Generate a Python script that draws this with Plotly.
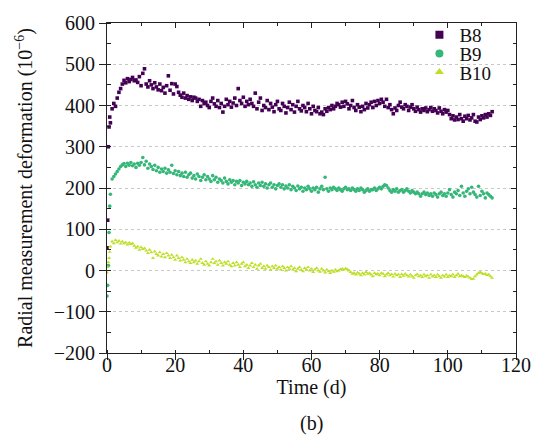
import plotly.graph_objects as go

days = [0, 0.2, 0.4, 0.6, 0.8, 1.0,
        1.5, 2, 2.5, 3, 3.5, 4, 4.5, 5, 5.5, 6, 6.5, 7, 7.5, 8, 8.5, 9, 9.5, 10, 10.5,
        11, 11.5, 12, 12.5, 13, 13.5, 14, 14.5, 15, 15.5, 16, 16.5, 17, 17.5, 18, 18.5, 19, 19.5, 20, 20.5,
        21, 21.5, 22, 22.5, 23, 23.5, 24, 24.5, 25, 25.5, 26, 26.5, 27, 27.5, 28, 28.5, 29, 29.5, 30, 30.5,
        31, 31.5, 32, 32.5, 33, 33.5, 34, 34.5, 35, 35.5, 36, 36.5, 37, 37.5, 38, 38.5, 39, 39.5, 40, 40.5,
        41, 41.5, 42, 42.5, 43, 43.5, 44, 44.5, 45, 45.5, 46, 46.5, 47, 47.5, 48, 48.5, 49, 49.5, 50, 50.5,
        51, 51.5, 52, 52.5, 53, 53.5, 54, 54.5, 55, 55.5, 56, 56.5, 57, 57.5, 58, 58.5, 59, 59.5, 60, 60.5,
        61, 61.5, 62, 62.5, 63, 63.5, 64, 64.5, 65, 65.5, 66, 66.5, 67, 67.5, 68, 68.5, 69, 69.5, 70, 70.5,
        71, 71.5, 72, 72.5, 73, 73.5, 74, 74.5, 75, 75.5, 76, 76.5, 77, 77.5, 78, 78.5, 79, 79.5, 80, 80.5,
        81, 81.5, 82, 82.5, 83, 83.5, 84, 84.5, 85, 85.5, 86, 86.5, 87, 87.5, 88, 88.5, 89, 89.5, 90, 90.5,
        91, 91.5, 92, 92.5, 93, 93.5, 94, 94.5, 95, 95.5, 96, 96.5, 97, 97.5, 98, 98.5, 99, 99.5, 100, 100.5,
        101, 101.5, 102, 102.5, 103, 103.5, 104, 104.5, 105, 105.5, 106, 106.5, 107, 107.5, 108, 108.5, 109, 109.5, 110, 110.5,
        111, 111.5, 112, 112.5, 113]

b8 = [55, 122, 300, 348, 372, 358,
      392, 405, 398, 418, 432, 441, 452, 461, 455, 465, 458, 463, 468, 460, 462, 456, 470, 448, 478,
      489, 452, 445, 460, 450, 441, 455, 445, 438, 452, 436, 444, 430, 448, 472, 437, 453, 428, 452, 446,
      432, 425, 420, 430, 418, 424, 415, 421, 412, 420, 418, 410, 415, 398, 412, 405, 408, 400, 395, 410,
      418, 404, 398, 412, 395, 405, 384, 398, 415, 402, 410, 396, 406, 418, 400, 441, 412, 405, 420, 398,
      410, 402, 415, 405, 398, 430, 392, 408, 418, 388, 400, 395, 412, 390, 405, 396, 385, 402, 410, 392,
      388, 405, 398, 382, 395, 408, 390, 402, 384, 398, 410, 392, 387, 400, 395, 385, 405, 392, 380, 398,
      388, 385, 395, 380, 384, 378, 392, 386, 395, 390, 400, 392, 398, 405, 402, 396, 408, 398, 410, 404,
      392, 400, 412, 395, 388, 402, 396, 385, 398, 390, 405, 394, 402, 408, 395, 410, 400, 412, 405, 415,
      408, 398, 415, 395, 402, 390, 380, 394, 388, 400, 408, 396, 392, 402, 398, 388, 396, 402, 392, 386,
      396, 390, 384, 392, 388, 394, 385, 390, 395, 386, 392, 388, 382, 394, 386, 380, 390, 384, 388, 378,
      368, 375, 365, 372, 366, 378, 368, 362, 374, 368, 376, 365, 370, 378, 362, 360, 372, 366, 375, 370,
      378, 372, 380, 376, 385]

b9 = [-62, -36, 12, 92, 156, 185,
      222, 228, 234, 240, 246, 252, 256, 259, 252, 260, 255, 262, 254, 258, 250, 260, 255, 262, 274,
      256, 265, 248, 258, 252, 245, 255, 242, 250, 238, 246, 240, 248, 236, 244, 238, 255, 235, 242, 232,
      240, 230, 236, 228, 238, 226, 232, 236, 224, 230, 222, 234, 228, 218, 226, 232, 220, 228, 222, 216,
      230, 220, 226, 214, 222, 218, 212, 224, 216, 210, 220, 214, 218, 208, 216, 212, 218, 206, 214, 210,
      216, 208, 212, 204, 215, 208, 202, 212, 206, 214, 204, 210, 200, 208, 212, 202, 208, 198, 206, 210,
      202, 208, 198, 205, 200, 208, 196, 204, 200, 194, 205, 198, 202, 192, 200, 196, 204, 198, 192, 200,
      196, 202, 190, 198, 204, 196, 226, 198, 192, 200, 196, 202, 198, 194, 200, 196, 192, 198, 202, 196,
      198, 194, 200, 196, 192, 198, 194, 200, 196, 190, 194, 198, 192, 196, 196, 200, 194, 198, 202, 198,
      204, 208, 206, 200, 194, 190, 196, 192, 198, 190, 194, 196, 190, 194, 198, 192, 188, 194, 190, 186,
      190, 186, 180, 186, 190, 184, 188, 182, 186, 180, 188, 184, 178, 186, 190, 182, 186, 180, 188, 196,
      184, 178, 190, 186, 194, 182, 204, 188, 180, 192, 198, 186, 202, 190, 184, 178, 204, 182, 192, 186,
      176, 188, 184, 180, 176]

b10 = [-5, 8, 20, 30, 45, 58,
       70, 66, 74, 68, 72, 65, 70, 66, 68, 63, 67, 64, 66, 60, 55, 58, 50, 56, 52,
       54, 48, 42, 50, 44, 30, 46, 40, 36, 44, 34, 40, 32, 42, 36, 30, 38, 32, 26, 36,
       30, 24, 32, 26, 20, 28, 22, 18, 26, 20, 24, 16, 22, 28, 18, 14, 22, 16, 12, 20,
       28, 18, 22, 14, 24, 18, 12, 20, 16, 22, 14, 10, 18, 12, 20, 14, 8, 16, 20, 10,
       14, 6, 12, 18, 8, 14, 4, 12, 16, 6, 10, 4, 12, 8, 2, 10, 6, 12, 4, 8,
       2, 10, 6, 0, 8, 4, 10, 2, 6, -2, 4, 8, 2, -2, 6, 2, 8, 0, 4, -4,
       2, 6, 0, -3, 4, 0, -5, 2, -2, -6, 0, -3, 2, -2, 0, 3, 4, 2, 5, 3,
       0, -4, -8, -6, -10, -5, -8, -12, -6, -10, -4, -8, -6, -10, -14, -6, -10, -8, -12, -6,
       -8, -14, -10, -6, -12, -9, -15, -8, -12, -10, -16, -9, -13, -8, -12, -15, -10, -14, -18, -12,
       -9, -14, -12, -16, -10, -14, -12, -18, -10, -15, -12, -16, -10, -14, -18, -12, -15, -10, -16, -12,
       -14, -10, -16, -12, -8, -14, -12, -14, -16, -13, -15, -18, -21, -20, -14, -10, -6, -4, -7, -9,
       -8, -11, -10, -14, -18]

names = ["B8", "B9", "B10"]
colors = ["#440154", "#35b779", "#bddf26"]
symbols = ["square", "circle", "triangle-up"]
series = [b8, b9, b10]
legend_ids = ["legend", "legend2", "legend3"]

FONT = "Liberation Serif, Times New Roman, serif"

fig = go.Figure()
for name, vals, col, sym in zip(names, series, colors, symbols):
    fig.add_trace(go.Scatter(x=days, y=vals, mode="markers", name=name, showlegend=False,
                             marker=dict(symbol=sym, size=3.6, color=col, line=dict(width=0))))
for name, col, sym, lg in zip(names, colors, symbols, legend_ids):
    fig.add_trace(go.Scatter(x=[None], y=[None], mode="markers", name=name, legend=lg,
                             marker=dict(symbol=sym, size=8, color=col, line=dict(width=0))))
# carrier for the mirrored top/right axes
fig.add_trace(go.Scatter(x=[None], y=[None], xaxis="x2", yaxis="y2", showlegend=False,
                         hoverinfo="skip"))

axcol = "#222222"
plot_h = 437 - 18 - 84
plot_w = 543 - 107 - 21


def py(pix):
    return (353 - pix) / plot_h


def px(pix):
    return (pix - 107) / plot_w


legend_rows = [30, 49, 68]
legend_cfg = {}
for lg, row in zip(legend_ids, legend_rows):
    legend_cfg[lg] = dict(x=px(424), y=py(row), xanchor="left", yanchor="middle",
                          bgcolor="rgba(0,0,0,0)", font=dict(size=19, family=FONT, color="#111111"),
                          itemwidth=30)

fig.update_layout(
    width=543, height=437,
    margin=dict(l=107, r=21, t=18, b=84),
    paper_bgcolor="white", plot_bgcolor="white",
    font=dict(family=FONT, size=20, color="#111111"),
    xaxis=dict(range=[0, 120], dtick=20, tick0=0, ticks="outside", ticklen=6, tickwidth=1,
               tickcolor=axcol, showline=True, linecolor=axcol, linewidth=1,
               showgrid=False, zeroline=False, ticklabelstandoff=-12,
               minor=dict(dtick=10, ticks="inside", ticklen=3, tickcolor=axcol, showgrid=False),
               title=dict(text="Time (d)", standoff=2, font=dict(size=20)),
               tickfont=dict(size=20)),
    yaxis=dict(range=[-200, 600], dtick=100, tick0=0, ticks="outside", ticklen=7, tickwidth=1,
               tickcolor=axcol, showline=True, linecolor=axcol, linewidth=1,
               showgrid=True, gridcolor="#c8c8c8", gridwidth=1, griddash="dot",
               zeroline=False,
               minor=dict(dtick=50, ticks="inside", ticklen=4, tickcolor=axcol, showgrid=False),
               title=dict(text="Radial measurement deformation (10<sup>−6</sup>)", standoff=15,
                          font=dict(size=20)),
               tickfont=dict(size=20)),
    xaxis2=dict(range=[0, 120], overlaying="x", side="top", dtick=20, tick0=0, ticks="inside",
                ticklen=5, tickcolor=axcol, showline=True, linecolor=axcol, linewidth=1,
                showticklabels=False, showgrid=False, zeroline=False,
                minor=dict(dtick=10, ticks="inside", ticklen=3, tickcolor=axcol, showgrid=False)),
    yaxis2=dict(range=[-200, 600], overlaying="y", side="right", dtick=100, tick0=0, ticks="inside",
                ticklen=5, tickcolor=axcol, showline=True, linecolor=axcol, linewidth=1,
                showticklabels=False, showgrid=False, zeroline=False,
                minor=dict(dtick=50, ticks="inside", ticklen=3, tickcolor=axcol, showgrid=False)),
    annotations=[dict(text="(b)", x=0.5, y=py(425), xref="paper", yref="paper", showarrow=False,
                      yanchor="middle", font=dict(size=20, family=FONT))],
    **legend_cfg,
)

fig.write_html("out.html")
